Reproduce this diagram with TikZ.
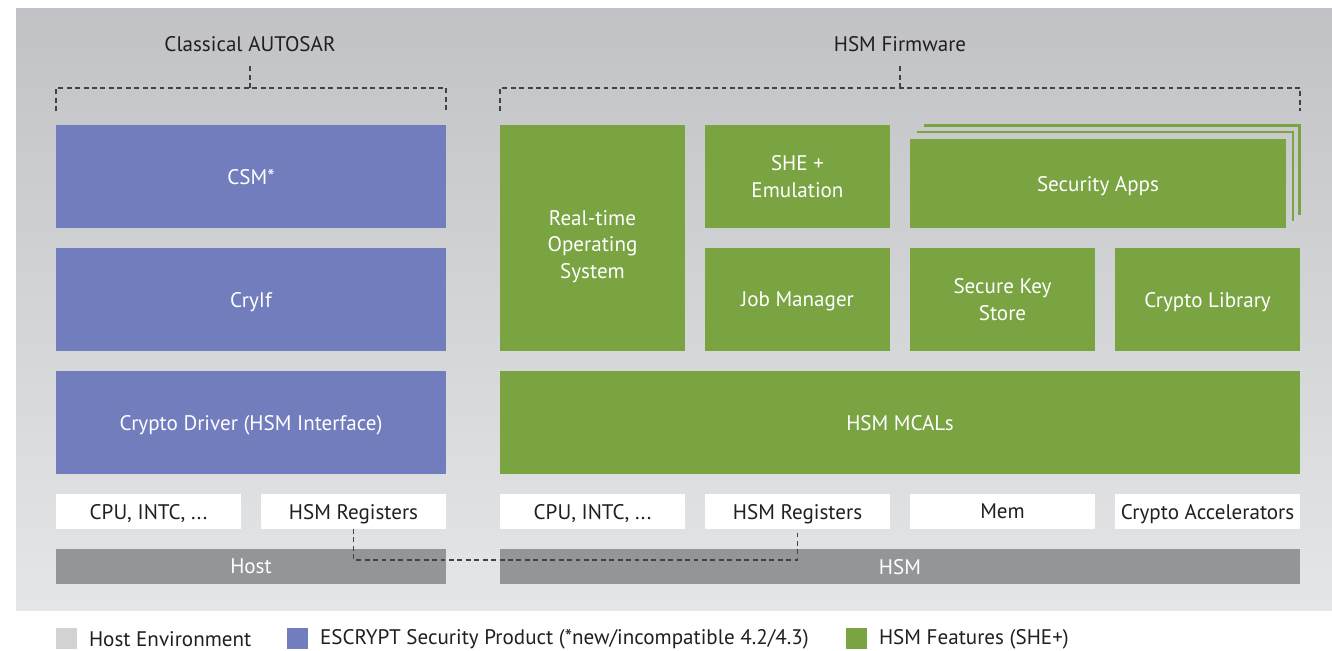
\documentclass[tikz,border=0pt]{standalone}
\usepackage{fontspec}
\setmainfont{PT Sans}
\usetikzlibrary{positioning}
\definecolor{escc}{HTML}{717DBD}
\definecolor{hsmc}{HTML}{7AA342}
\definecolor{barc}{HTML}{939598}
\definecolor{envc}{HTML}{D1D2D4}
\definecolor{txtc}{HTML}{231F20}
\definecolor{bgtop}{HTML}{C1C2C5}
\definecolor{bgbot}{HTML}{E5E6E7}

\begin{document}
\begin{tikzpicture}[x=0.02cm, y=-0.02cm, font=\fontsize{12}{15}\selectfont,
  blk/.style 2 args={anchor=north west, inner sep=0pt, outer sep=0pt, align=center,
    minimum width=#1*0.02cm, minimum height=#2*0.02cm},
  one/.style={text depth=0pt},
  esc/.style={fill=escc, text=white},
  hsm/.style={fill=hsmc, text=white},
  hw/.style={fill=white, text=txtc, one},
  bar/.style={fill=barc, text=white, one},
  dashline/.style={draw=txtc!85, line width=0.8pt, dash pattern=on 2.8pt off 2pt},
  layer/.style={draw=hsmc, line width=1.4pt},
  key/.style={anchor=north west, inner sep=0pt, minimum size=21*0.02cm},
  keytxt/.style={anchor=west, inner sep=0pt, text=txtc}]
  \useasboundingbox (0,0) rectangle (1332,650);
  \fill[white] (0,0) rectangle (1332,650);
  % panel
  \shade[top color=bgtop, bottom color=bgbot] (16,8) rectangle (1332,610);

  % host side (classical AUTOSAR)
  \node[blk={390}{103}, esc, one] (csm) at (56,125) {CSM*};
  \node[blk={390}{103}, esc, one] (cryif) at (56,248) {CryIf};
  \node[blk={390}{103}, esc, one] (cdrv) at (56,371) {Crypto Driver (HSM Interface)};
  \node[blk={185}{35}, hw] (hcpu) at (56,494) {CPU, INTC, ...};
  \node[blk={185}{35}, hw] (hreg) at (261,494) {HSM Registers};
  \node[blk={390}{35}, bar] (host) at (56,549) {Host};

  % HSM side (firmware)
  \node[blk={185}{226}, hsm,
    label={[text=white, align=center, yshift=-0.17cm]center:Real-time\\Operating\\System}] (rtos) at (500,125) {};
  \node[blk={185}{103}, hsm] (she) at (705,125) {SHE +\\Emulation};
  \node[blk={376}{89}, hsm, one] (apps) at (910,139) {Security Apps};
  \foreach \o in {0.14,0.27}
    \draw[layer] ([shift={(\o cm,\o cm)}]apps.north west) -- ([shift={(\o cm,\o cm)}]apps.north east)
      -- ([shift={(\o cm,\o cm)}]apps.south east);
  \node[blk={185}{103}, hsm, one] (jobm) at (705,248) {Job Manager};
  \node[blk={185}{103}, hsm] (keys) at (910,248) {Secure Key\\Store};
  \node[blk={185}{103}, hsm, one] (clib) at (1115,248) {Crypto Library};
  \node[blk={800}{103}, hsm, one] (mcal) at (500,371) {HSM MCALs};
  \node[blk={185}{35}, hw] (scpu) at (500,494) {CPU, INTC, ...};
  \node[blk={185}{35}, hw] (sreg) at (705,494) {HSM Registers};
  \node[blk={185}{35}, hw] (smem) at (910,494) {Mem};
  \node[blk={185}{35}, hw] (sacc) at (1115,494) {Crypto Accelerators};
  \node[blk={800}{35}, bar] (hsmbar) at (500,549) {HSM};

  % group labels and brackets
  \node[text=txtc] (autosar) at (250,44) {Classical AUTOSAR};
  \node[text=txtc] (fw) at (900,44) {HSM Firmware};
  \coordinate (lbl) at ([yshift=0.74cm]csm.north west);
  \coordinate (lbr) at ([yshift=0.74cm]csm.north east);
  \draw[dashline] ([yshift=-0.46cm]lbl) -- (lbl) -- (lbr) -- ([yshift=-0.46cm]lbr);
  \draw[dashline] (lbl -| autosar) -- ++(0,-23);
  \coordinate (rbl) at ([yshift=0.74cm]rtos.north west);
  \coordinate (rbr) at (rbl -| mcal.east);
  \draw[dashline] ([yshift=-0.46cm]rbl) -- (rbl) -- (rbr) -- ([yshift=-0.46cm]rbr);
  \draw[dashline] (rbl -| fw) -- ++(0,-23);

  % register link host <-> HSM
  \draw[dashline] (hreg.south) -- ++(0,31) -| (sreg.south);

  % legend
  \node[key, fill=envc] (kenv) at (56,628) {};
  \node[keytxt, right=0.22cm of kenv] (tenv) {Host Environment};
  \node[key, fill=escc] (kesc) at (287,628) {};
  \node[keytxt, right=0.22cm of kesc] (tesc) {ESCRYPT Security Product (*new/incompatible 4.2/4.3)};
  \node[key, fill=hsmc] (khsm) at (846,628) {};
  \node[keytxt, right=0.22cm of khsm] (thsm) {HSM Features (SHE+)};
\end{tikzpicture}
\end{document}
